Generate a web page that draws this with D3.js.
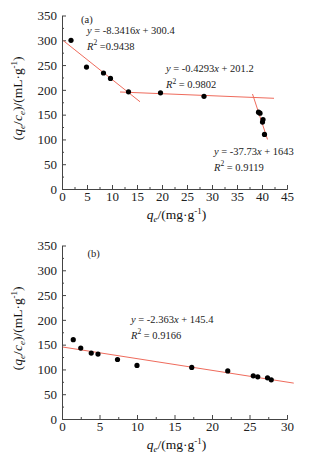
<!DOCTYPE html>
<html>
<head>
<meta charset="utf-8">
<script src="https://cdn.jsdelivr.net/npm/d3@7"></script>
<style>
  body { margin: 0; background: #fff; }
  svg { font-family: "Liberation Serif", "Times New Roman", serif; }
  .axis path, .axis line { stroke: #444; }
  .axis text { fill: #222; font-size: 13px; font-family: "Liberation Serif", serif; }
  .note { font-size: 10.5px; fill: #222; }
  .title { font-size: 13.5px; fill: #111; }
</style>
</head>
<body>
<div id="chart"></div>
<script>
// panel (a)
const xa = [1.8, 4.9, 8.3, 9.7, 13.3, 19.7, 28.4, 39.3, 39.6, 40.2, 40.1, 40.5];
const ya = [300, 246, 234, 223, 196, 194, 187, 155, 153, 140, 135, 110];
// fitted segments as drawn: [x1, y1, x2, y2]
const segA = [[0.3, 299, 15.6, 176], [11.6, 195.7, 42.4, 183], [38.1, 191.6, 41.1, 100]];
const eqA = ['-8.3416', '-0.4293', '-37.73'];
const icA = ['300.4', '201.2', '1643'];
const r2A = ['=0.9438', '= 0.9802', '= 0.9119'];
const noteA = [[5.0, 312.7], [20.8, 236], [30.4, 68.6]];

// panel (b)
const xb = [1.5, 2.5, 3.9, 4.8, 7.4, 10.0, 17.3, 22.1, 25.5, 26.1, 27.4, 27.9];
const yb = [160, 143, 133, 131, 120, 108, 104, 97, 87, 85, 83, 79];
const segB = [[0.1, 145.2, 30.9, 72.4]];
const eqB = ['-2.363'];
const icB = ['145.4'];
const r2B = ['= 0.9166'];
const noteB = [[9.2, 193.7]];

const yTicks = [0, 50, 100, 150, 200, 250, 300, 350];
const xTicksA = [0, 5, 10, 15, 20, 25, 30, 35, 40, 45];
const xTicksB = [0, 5, 10, 15, 20, 25, 30];

var svg = d3.select('#chart').append('svg')
    .attr('width', 310)
    .attr('height', 462);

function panel(top, xs, ys, segs, eqs, ics, r2s, notes, xTicks, tag, tagPos) {
    var left = 62, right = 287, height = 173.5;
    var g = svg.append('g').attr('transform', `translate(0,${top})`);

    var xMax = xTicks[xTicks.length - 1];
    var x = d3.scaleLinear().domain([0, xMax]).range([left, right]);
    var y = d3.scaleLinear().domain([0, 350]).range([height, 0]);

    var xMinor = d3.range(2.5, xMax, 5);
    var yMinor = d3.range(25, 350, 50);

    g.append('g')
        .attr('class', 'axis')
        .attr('transform', `translate(0,${height})`)
        .call(d3.axisBottom(x).tickValues(xMinor).tickSize(-2).tickSizeOuter(0).tickFormat(''));
    g.append('g')
        .attr('class', 'axis')
        .attr('transform', `translate(0,${height})`)
        .call(d3.axisBottom(x).tickValues(xTicks).tickSize(-4).tickSizeOuter(0).tickPadding(3));

    g.append('g')
        .attr('class', 'axis')
        .attr('transform', `translate(${left},0)`)
        .call(d3.axisLeft(y).tickValues(yMinor).tickSize(-2).tickSizeOuter(0).tickFormat(''));
    g.append('g')
        .attr('class', 'axis')
        .attr('transform', `translate(${left},0)`)
        .call(d3.axisLeft(y).tickValues(yTicks).tickSize(-4).tickSizeOuter(0).tickPadding(5));

    g.selectAll('.fit')
        .data(segs)
        .enter()
        .append('line')
            .attr('x1', d => x(d[0]))
            .attr('y1', d => y(d[1]))
            .attr('x2', d => x(d[2]))
            .attr('y2', d => y(d[3]))
            .attr('stroke', '#ef6b5c')
            .attr('stroke-width', 1);

    g.selectAll('.dot')
        .data(xs.map((v, i) => [v, ys[i]]))
        .enter()
        .append('circle')
            .attr('cx', d => x(d[0]))
            .attr('cy', d => y(d[1]))
            .attr('r', 2.6)
            .attr('fill', '#000');

    g.append('text')
        .attr('class', 'note')
        .attr('x', x(tagPos[0]))
        .attr('y', y(tagPos[1]))
        .text(tag);

    notes.forEach((p, i) => {
        var t = g.append('text').attr('class', 'note')
            .attr('x', x(p[0])).attr('y', y(p[1]));
        t.append('tspan').attr('font-style', 'italic').text('y');
        t.append('tspan').text(` = ${eqs[i]}`);
        t.append('tspan').attr('font-style', 'italic').text('x');
        t.append('tspan').text(` + ${ics[i]}`);

        var r = g.append('text').attr('class', 'note')
            .attr('x', x(p[0])).attr('y', y(p[1]) + 16);
        r.append('tspan').attr('font-style', 'italic').text('R');
        r.append('tspan').attr('font-size', '7.5px').attr('dy', -4.5).text('2');
        r.append('tspan').attr('dy', 4.5).text(' ' + r2s[i]);
    });

    // x title
    var xt = g.append('text').attr('class', 'title')
        .attr('text-anchor', 'middle')
        .attr('x', (left + right) / 2 + 2)
        .attr('y', height + 30);
    xt.append('tspan').attr('font-style', 'italic').text('q');
    xt.append('tspan').attr('font-style', 'italic').attr('font-size', '9px').attr('dy', 3).text('e');
    xt.append('tspan').attr('dy', -3).text('/(mg·g');
    xt.append('tspan').attr('font-size', '9px').attr('dy', -5).text('-1');
    xt.append('tspan').attr('dy', 5).text(')');

    // y title
    var yt = g.append('text').attr('class', 'title')
        .attr('text-anchor', 'middle')
        .attr('transform', `translate(22,${height / 2 - 4}) rotate(-90)`);
    yt.append('tspan').text('(');
    yt.append('tspan').attr('font-style', 'italic').text('q');
    yt.append('tspan').attr('font-style', 'italic').attr('font-size', '9px').attr('dy', 3).text('e');
    yt.append('tspan').attr('dy', -3).text('/');
    yt.append('tspan').attr('font-style', 'italic').text('c');
    yt.append('tspan').attr('font-style', 'italic').attr('font-size', '9px').attr('dy', 3).text('e');
    yt.append('tspan').attr('dy', -3).text(')/(mL·g');
    yt.append('tspan').attr('font-size', '9px').attr('dy', -5).text('-1');
    yt.append('tspan').attr('dy', 5).text(')');
}

panel(15.5, xa, ya, segA, eqA, icA, r2A, noteA, xTicksA, '(a)', [3.8, 335]);
panel(245.5, xb, yb, segB, eqB, icB, r2B, noteB, xTicksB, '(b)', [3.4, 327]);
</script>
</body>
</html>
